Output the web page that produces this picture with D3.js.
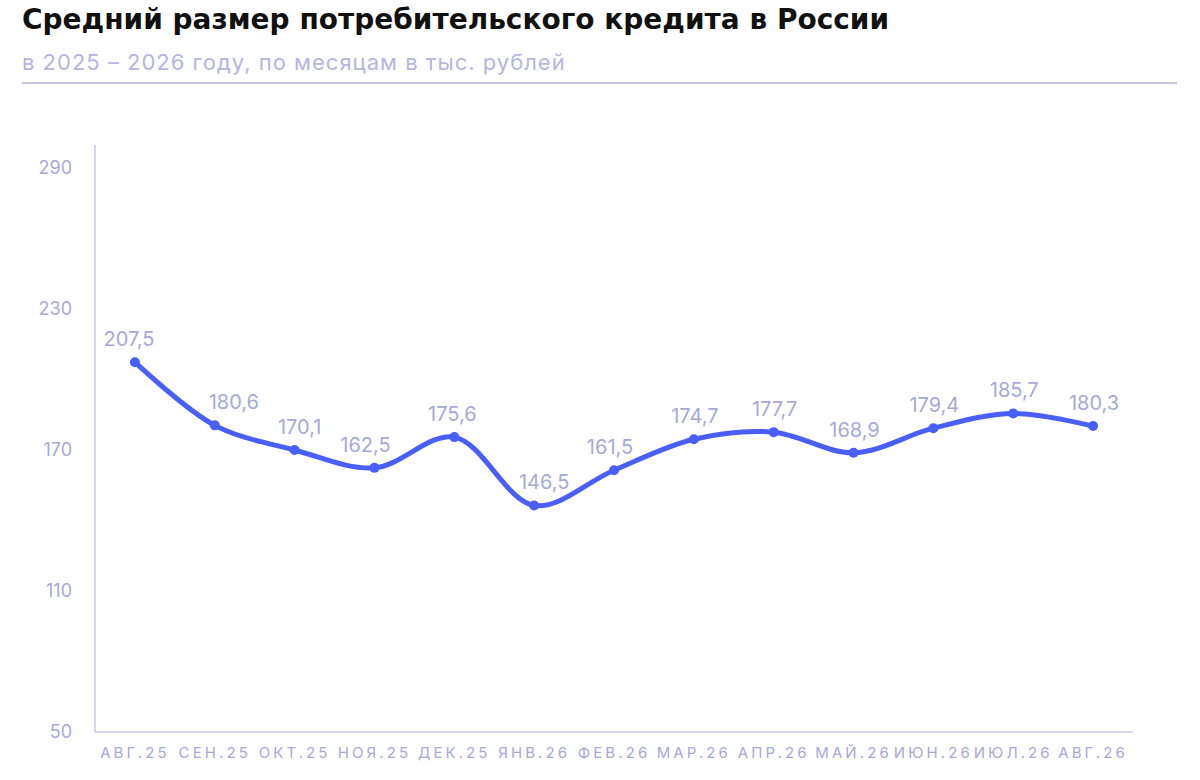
<!DOCTYPE html>
<html>
<head>
<meta charset="utf-8">
<script src="https://cdn.jsdelivr.net/npm/d3@7"></script>
<style>
  body { margin: 0; background: #fff; }
  svg { display: block; font-family: Inter, "Noto Sans", sans-serif; }
</style>
</head>
<body>
<svg id="chart" width="1200" height="780"></svg>
<script>
  // данные
  var months = ["АВГ.25","СЕН.25","ОКТ.25","НОЯ.25","ДЕК.25","ЯНВ.26","ФЕВ.26","МАР.26","АПР.26","МАЙ.26","ИЮН.26","ИЮЛ.26","АВГ.26"]
  var values = [207.5,180.6,170.1,162.5,175.6,146.5,161.5,174.7,177.7,168.9,179.4,185.7,180.3]
  var yTicks = [50,110,170,230,290]

  var svg = d3.select("#chart")
  var mLeft = 95, mRight = 1133, mTop = 145, mBottom = 732
  var lav = "#a6a9d6"
  // сдвиг подписей, чтобы не наезжали на линию
  var nudge = {0:-7, 1:18, 2:4, 3:-10, 4:-3, 5:9, 6:-5}

  svg.append("text").attr("x",22).attr("y",29).text("Средний размер потребительского кредита в России")
    .attr("font-size",28).attr("font-weight",700).attr("fill","#111").attr("font-family","'DejaVu Sans', sans-serif")
  svg.append("text").attr("x",22).attr("y",70).text("в 2025 – 2026 году, по месяцам в тыс. рублей")
    .attr("font-size",22).attr("letter-spacing",1.0).attr("fill","#b3b6df")
  svg.append("line").attr("x1",22).attr("x2",1177).attr("y1",83).attr("y2",83)
    .attr("stroke","#c6c8e2").attr("stroke-width",2)

  var x = d3.scalePoint().domain(months).range([mLeft,mRight]).padding(0.5)
  var y = d3.scaleLinear().domain([50,300]).range([mBottom,mTop])

  // оси
  svg.append("line").attr("x1",mLeft).attr("x2",mLeft).attr("y1",mTop).attr("y2",mBottom).attr("stroke","#c6c8e6").attr("stroke-width",1.5)
  svg.append("line").attr("x1",mLeft).attr("x2",mRight).attr("y1",mBottom).attr("y2",mBottom).attr("stroke","#c6c8e6").attr("stroke-width",1.5)

  svg.selectAll(".yt").data(yTicks).enter().append("text")
    .attr("x",72).attr("y",function(d){return y(d)+6}).attr("text-anchor","end")
    .attr("font-size",18).attr("fill",lav).text(function(d){return d})

  svg.selectAll(".xt").data(months).enter().append("text")
    .attr("x",function(d){return x(d)}).attr("y",758).attr("text-anchor","middle")
    .attr("font-size",15).attr("letter-spacing",3.1).attr("fill",lav).text(function(d){return d})

  var line = d3.line().x(function(d,i){return x(months[i])}).y(function(d){return y(d)}).curve(d3.curveCatmullRom.alpha(0.5))
  svg.append("path").datum(values).attr("d",line).attr("fill","none").attr("stroke","#4a5ff7").attr("stroke-width",5).attr("stroke-linecap","round")

  svg.selectAll(".pt").data(values).enter().append("circle")
    .attr("cx",function(d,i){return x(months[i])}).attr("cy",function(d){return y(d)}).attr("r",5).attr("fill","#4a5ff7")

  svg.selectAll(".lb").data(values).enter().append("text")
    .attr("x",function(d,i){return x(months[i])+1+(nudge[i]||0)}).attr("y",function(d){return y(d)-16}).attr("text-anchor","middle")
    .attr("font-size",20).attr("fill",lav).text(function(d){return String(d).replace(".",",")})
</script>
</body>
</html>
